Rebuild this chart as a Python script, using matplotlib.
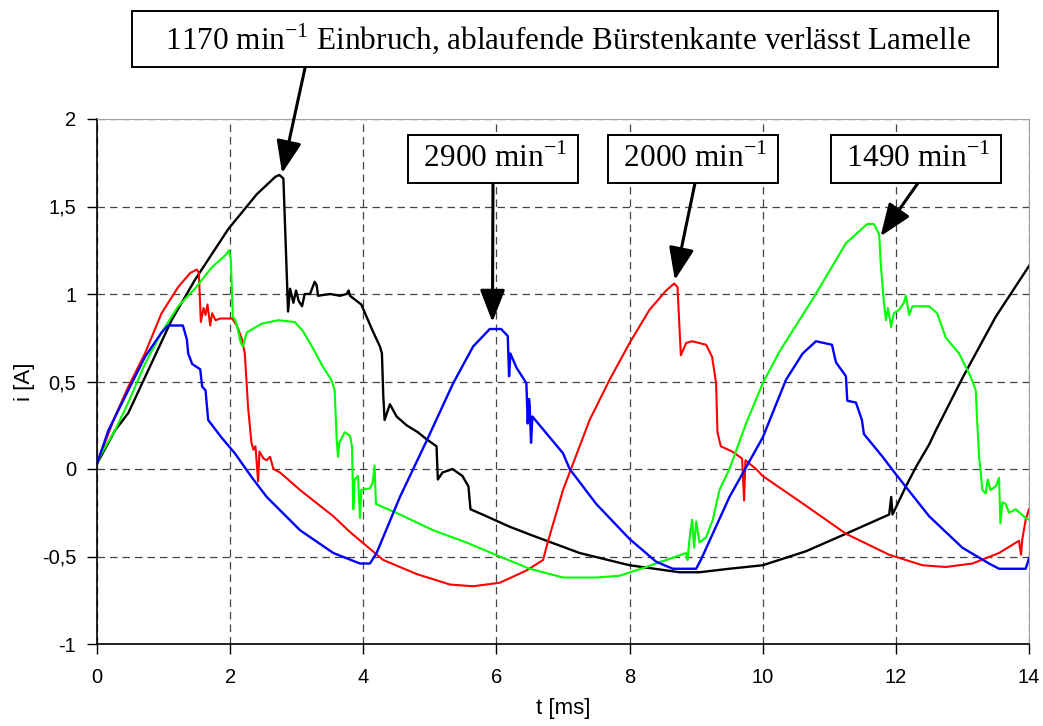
import matplotlib
matplotlib.use('Agg')
import matplotlib.pyplot as plt
from matplotlib.ticker import FuncFormatter

plt.rcParams['font.family'] = 'Liberation Sans'
plt.rcParams['font.size'] = 15

# ── traced data: t [ms], i [A] ──
t_1170 = [0, 0.27, 0.47, 1.12, 1.47, 1.97, 2.4, 2.68, 2.74, 2.8, 2.87, 2.9, 2.95, 2.99, 3.03,
          3.08, 3.12, 3.2, 3.27, 3.3, 3.32, 3.5, 3.65, 3.75, 3.78, 3.8, 3.97, 4.14, 4.25, 4.28,
          4.3, 4.32, 4.4, 4.5, 4.65, 4.82, 4.95, 5.1, 5.12, 5.19, 5.34, 5.49, 5.58, 5.61, 5.79,
          6.2, 6.54, 7.25, 8.0, 8.75, 9.05, 9.5, 10.0, 10.65, 11.25, 11.9, 11.93, 11.95, 12.15,
          12.3, 12.5, 12.6, 13.0, 13.5, 14.0]
i_1170 = [0.03, 0.22, 0.32, 0.85, 1.08, 1.37, 1.57, 1.67, 1.68, 1.66, 0.90, 1.03, 0.95, 1.02, 0.96,
          0.93, 1.0, 1.0, 1.07, 1.05, 0.99, 1.0, 0.99, 1.0, 1.02, 0.99, 0.94, 0.79, 0.70, 0.66,
          0.42, 0.28, 0.37, 0.30, 0.25, 0.21, 0.17, 0.13, -0.06, -0.02, 0.0, -0.04, -0.10, -0.23, -0.26,
          -0.33, -0.38, -0.48, -0.55, -0.59, -0.59, -0.57, -0.55, -0.47, -0.37, -0.26, -0.16, -0.26, -0.10,
          0.01, 0.14, 0.22, 0.52, 0.87, 1.16]

t_2000 = [0, 0.27, 0.47, 0.72, 0.97, 1.22, 1.4, 1.5, 1.53, 1.56, 1.6, 1.63, 1.66, 1.7, 1.73,
          1.78, 1.85, 2.03, 2.1, 2.18, 2.22, 2.27, 2.32, 2.35, 2.38, 2.42, 2.44, 2.5, 2.55, 2.6,
          2.65, 2.75, 3.05, 3.55, 3.8, 4.3, 4.8, 5.3, 5.65, 6.05, 6.45, 6.7, 6.77, 7.0, 7.12,
          7.4, 7.7, 8.0, 8.3, 8.55, 8.67, 8.72, 8.77, 8.85, 8.94, 9.15, 9.24, 9.3, 9.32, 9.37,
          9.54, 9.69, 9.72, 9.74, 9.9, 10.0, 10.65, 11.25, 11.9, 12.4, 12.75, 13.15, 13.55, 13.85,
          13.88, 13.9, 13.95, 14.0]
i_2000 = [0.03, 0.30, 0.47, 0.66, 0.89, 1.04, 1.12, 1.14, 1.12, 0.84, 0.92, 0.88, 0.94, 0.82, 0.89,
          0.85, 0.86, 0.86, 0.82, 0.74, 0.66, 0.35, 0.15, 0.11, 0.13, -0.07, 0.10, 0.06, 0.05, 0.07,
          0.0, -0.02, -0.12, -0.27, -0.36, -0.52, -0.60, -0.66, -0.67, -0.65, -0.58, -0.52, -0.42, -0.12, 0.0,
          0.28, 0.51, 0.72, 0.91, 1.02, 1.06, 1.04, 0.65, 0.72, 0.73, 0.71, 0.64, 0.49, 0.21, 0.13,
          0.10, 0.06, -0.18, 0.05, 0.0, -0.04, -0.21, -0.37, -0.49, -0.55, -0.56, -0.54, -0.48, -0.41,
          -0.49, -0.40, -0.29, -0.23]

t_2900 = [0, 0.17, 0.47, 0.72, 0.97, 1.07, 1.29, 1.35, 1.37, 1.43, 1.55, 1.58, 1.63, 1.67, 1.87,
          2.07, 2.33, 2.55, 3.05, 3.55, 3.95, 4.1, 4.2, 4.55, 4.95, 5.35, 5.65, 5.9, 6.07, 6.17,
          6.19, 6.21, 6.3, 6.45, 6.47, 6.49, 6.5, 6.52, 6.54, 7.0, 7.1, 7.5, 8.0, 8.4, 8.65,
          9.0, 9.07, 9.5, 10.0, 10.35, 10.6, 10.8, 11.04, 11.1, 11.25, 11.27, 11.4, 11.49, 11.52, 11.8,
          12.0, 12.5, 13.0, 13.4, 13.55, 13.95, 14.0]
i_2900 = [0.03, 0.22, 0.45, 0.64, 0.78, 0.82, 0.82, 0.74, 0.66, 0.60, 0.57, 0.47, 0.45, 0.28, 0.18,
          0.09, -0.05, -0.16, -0.35, -0.48, -0.54, -0.54, -0.48, -0.16, 0.16, 0.49, 0.70, 0.80, 0.80, 0.76,
          0.53, 0.66, 0.58, 0.49, 0.26, 0.40, 0.36, 0.15, 0.30, 0.09, 0.0, -0.20, -0.40, -0.53, -0.57,
          -0.57, -0.52, -0.16, 0.18, 0.51, 0.66, 0.73, 0.71, 0.61, 0.53, 0.39, 0.38, 0.28, 0.20, 0.07,
          -0.03, -0.27, -0.45, -0.54, -0.57, -0.57, -0.51]

t_1490 = [0, 0.07, 0.27, 0.47, 0.72, 0.97, 1.22, 1.47, 1.72, 1.95, 1.98, 2.01, 2.04, 2.08, 2.12,
          2.16, 2.19, 2.25, 2.47, 2.72, 2.97, 3.09, 3.2, 3.4, 3.52, 3.57, 3.6, 3.62, 3.64, 3.72,
          3.8, 3.83, 3.85, 3.87, 3.92, 3.95, 3.97, 4.1, 4.14, 4.17, 4.19, 4.55, 5.05, 5.55, 6.05,
          6.5, 7.0, 7.5, 7.85, 8.25, 8.55, 8.85, 8.87, 8.9, 8.94, 8.97, 9.0, 9.05, 9.15, 9.25,
          9.35, 9.5, 9.75, 10.0, 10.25, 10.75, 11.25, 11.57, 11.67, 11.75, 11.77, 11.82, 11.85, 11.88, 11.93,
          11.97, 12.05, 12.12, 12.15, 12.2, 12.25, 12.5, 12.62, 12.75, 12.95, 13.12, 13.2, 13.22, 13.25, 13.27,
          13.3, 13.35, 13.38, 13.42, 13.5, 13.55, 13.57, 13.6, 13.65, 13.7, 13.8, 13.95, 14.0]
i_1490 = [0.03, 0.09, 0.22, 0.38, 0.60, 0.78, 0.93, 1.03, 1.15, 1.23, 1.25, 1.20, 0.87, 0.85, 0.79,
          0.72, 0.70, 0.78, 0.83, 0.85, 0.84, 0.79, 0.72, 0.58, 0.51, 0.45, 0.17, 0.07, 0.15, 0.21,
          0.19, 0.13, -0.23, -0.06, -0.04, -0.28, -0.12, -0.11, -0.08, 0.02, -0.20, -0.26, -0.35, -0.42, -0.50,
          -0.57, -0.62, -0.62, -0.61, -0.56, -0.52, -0.48, -0.52, -0.40, -0.29, -0.45, -0.30, -0.42, -0.39, -0.29,
          -0.12, 0.0, 0.26, 0.49, 0.67, 0.97, 1.29, 1.40, 1.40, 1.34, 1.19, 0.95, 0.85, 0.92, 0.81,
          0.89, 0.91, 0.95, 0.99, 0.88, 0.93, 0.93, 0.89, 0.75, 0.66, 0.53, 0.45, 0.28, 0.07, 0.0,
          -0.12, -0.14, -0.06, -0.12, -0.10, -0.05, -0.31, -0.19, -0.20, -0.25, -0.23, -0.28, -0.29]

x_ticks = [0, 2, 4, 6, 8, 10, 12, 14]
y_ticks = [-1, -0.5, 0, 0.5, 1, 1.5, 2]

# annotations: label, arrow tip (data), box centre / arrow start (figure px), box pad
notes = [
    ('   1170 min$^{\\mathregular{-1}}$ Einbruch, ablaufende Bürstenkante verlässt Lamelle   ',
     (2.78, 1.69), (565, 39), (305, 68), 0.34),
    (' 2900 min$^{\\mathregular{-1}}$ ', (5.94, 0.84), (493, 159), (493, 183), 0.28),
    (' 2000 min$^{\\mathregular{-1}}$ ', (8.68, 1.08), (693, 159), (695, 183), 0.28),
    (' 1490 min$^{\\mathregular{-1}}$ ', (11.77, 1.33), (916, 159), (918, 183), 0.28),
]

W, H = 1043, 726
fig = plt.figure(figsize=(W / 100, H / 100), dpi=100)
ax = fig.add_axes([97 / W, 1 - 644 / H, (1029 - 97) / W, (644 - 119) / H])

ax.plot(t_1170, i_1170, color='black', lw=1.7)
ax.plot(t_2000, i_2000, color='#ff0000', lw=1.5)
ax.plot(t_1490, i_1490, color='#00ff00', lw=1.5)
ax.plot(t_2900, i_2900, color='#0000ff', lw=1.7)

ax.set_xlim(0, 14)
ax.set_ylim(-1, 2)
ax.set_xticks(x_ticks)
ax.set_yticks(y_ticks)
ax.yaxis.set_major_formatter(FuncFormatter(lambda v, p: f'{v:g}'.replace('.', ',')))
ax.tick_params(direction='out', length=7, width=1, colors='black', labelsize=14.5)
ax.tick_params(axis='x', pad=10)
ax.tick_params(axis='y', pad=8)
ax.grid(True, color='#444444', linestyle=(0, (6, 4)), linewidth=0.9)
ax.set_axisbelow(True)
for s in ('top', 'right'):
    ax.spines[s].set_color('#a0a0a0')
for s in ('left', 'bottom'):
    ax.spines[s].set_color('black')
    ax.spines[s].set_linewidth(1.2)

ax.set_xlabel('t [ms]', fontsize=16, labelpad=8)
ax.set_ylabel('i [A]', fontsize=16, labelpad=5)

for label, tip, centre, start, pad in notes:
    fig.text(centre[0] / W, 1 - centre[1] / H, label, ha='center', va='center',
             fontsize=22.5, family='Liberation Serif',
             bbox=dict(boxstyle=f'square,pad={pad}', facecolor='white', edgecolor='black', lw=1.4))
    ax.annotate('', xy=tip, xycoords='data',
                xytext=(start[0] / W, 1 - start[1] / H), textcoords='figure fraction',
                arrowprops=dict(arrowstyle='-|>,head_length=0.9,head_width=0.35',
                                color='black', lw=2.2, mutation_scale=22,
                                shrinkA=0, shrinkB=0),
                annotation_clip=False)

fig.savefig('out.png', dpi=100, facecolor='white')
